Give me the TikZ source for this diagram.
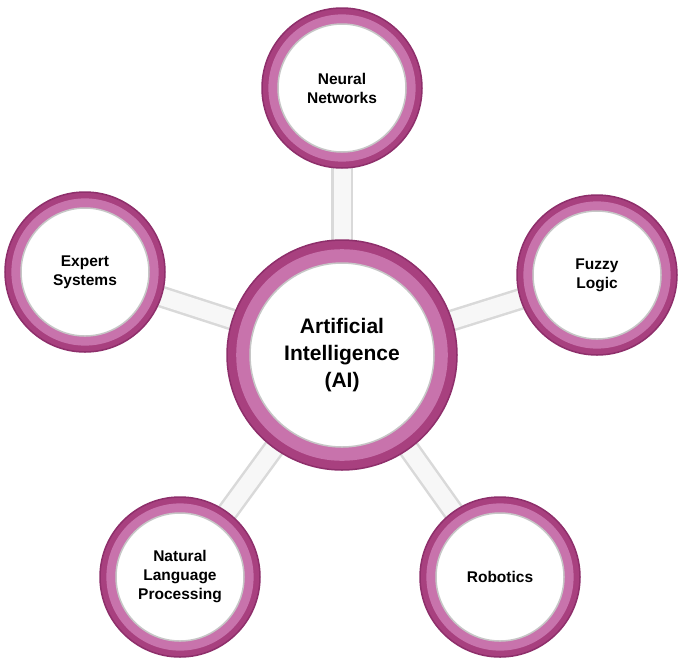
\documentclass[tikz,border=0pt]{standalone}
\usepackage{fontspec}
\setmainfont{Liberation Sans}
\begin{document}
\begin{tikzpicture}[x=1pt,y=-1pt,
  ring/.style={circle,minimum size=#1,inner sep=0pt,fill=ringc,draw=ringd,line width=1.5pt,
     path picture={\fill[ringl] (path picture bounding box.center) circle (0.46*#1);
                   \fill[white,draw=gray!45,line width=1.5pt] (path picture bounding box.center) circle (0.40*#1);}},
  lbl/.style={font=\bfseries\fontsize{15.5}{19}\selectfont,align=center,text=black},
  neck/.style={line width=22pt,draw=gray!30},
  necki/.style={line width=17pt,draw=gray!6}]
\definecolor{ringc}{HTML}{A8407F}
\definecolor{ringd}{HTML}{8E2F6B}
\definecolor{ringl}{HTML}{C873AC}
\useasboundingbox (0,0) rectangle (685,662);
\coordinate (c) at (342,355);
\coordinate (n1) at (342,88);
\coordinate (n2) at (85,272);
\coordinate (n3) at (597,275);
\coordinate (n4) at (180,577);
\coordinate (n5) at (500,577);
\foreach \n in {n1,n2,n3,n4,n5}{\draw[neck] (c) -- (\n);}
\foreach \n in {n1,n2,n3,n4,n5}{\draw[necki] (c) -- (\n);}
\node[ring=230pt] (ai) at (c) {};
\node[lbl,font=\bfseries\fontsize{21}{27}\selectfont] at (c) {Artificial\\Intelligence\\(AI)};
\node[ring=160pt] (a) at (n1) {}; \node[lbl] at (n1) {Neural\\Networks};
\node[ring=160pt] (b) at (n2) {}; \node[lbl] at (n2) {Expert\\Systems};
\node[ring=160pt] (d) at (n3) {}; \node[lbl] at (n3) {Fuzzy\\Logic};
\node[ring=160pt] (e) at (n4) {}; \node[lbl] at (n4) {Natural\\Language\\Processing};
\node[ring=160pt] (f) at (n5) {}; \node[lbl] at (n5) {Robotics};
\end{tikzpicture}
\end{document}
